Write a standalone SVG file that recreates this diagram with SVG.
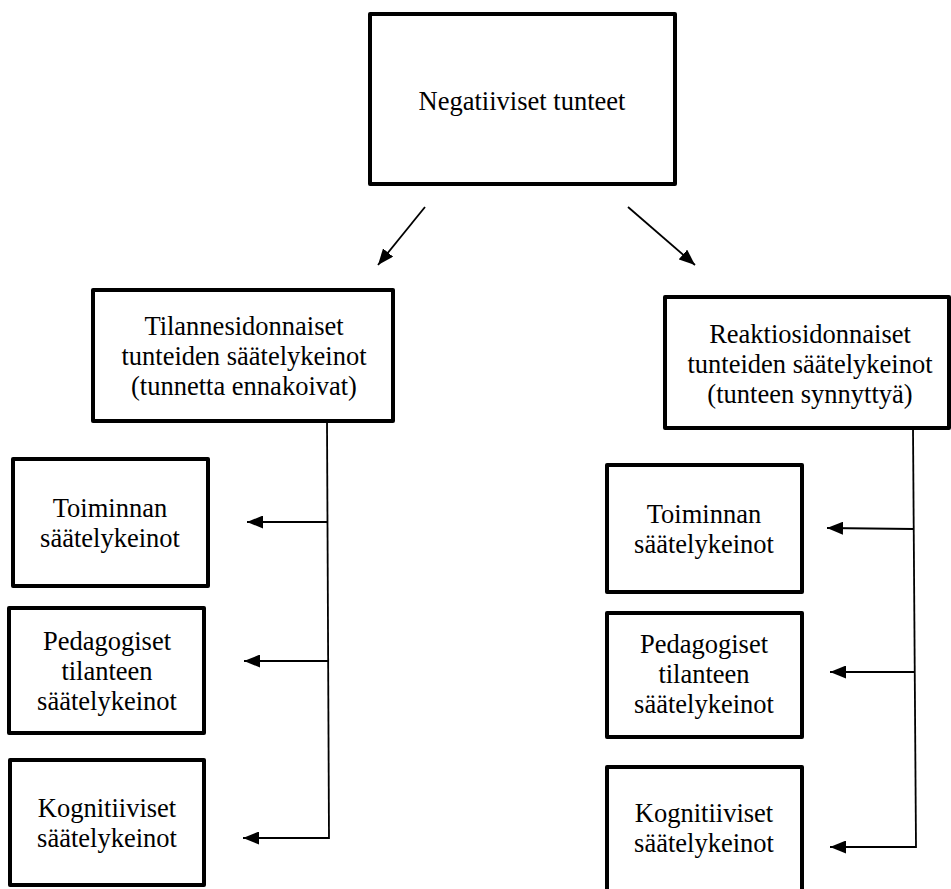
<svg xmlns="http://www.w3.org/2000/svg" width="951" height="889" viewBox="0 0 951 889">
<defs>
<marker id="ahb" markerWidth="16" markerHeight="13" refX="16" refY="6.5" orient="auto" markerUnits="userSpaceOnUse" viewBox="0 0 16 13">
<path d="M0,0 L16,6.5 L0,13 z" fill="#000"/>
</marker>
</defs>
<style>
.box{fill:#fff;stroke:#000;stroke-width:4;stroke-linejoin:round}
text{font-family:'Liberation Serif','Times New Roman',serif;font-size:26.5px;fill:#000;text-anchor:middle}
.ln{stroke:#000;stroke-width:1.8;fill:none}
.ar{stroke:#000;stroke-width:1.8;fill:none;marker-end:url(#ahb)}
</style>
<rect width="951" height="889" fill="#fff"/>
<g id="connectors">
<line class="ar" x1="425" y1="207" x2="378" y2="265"/>
<line class="ar" x1="628" y1="207" x2="695" y2="265"/>
<line class="ln" x1="327" y1="421" x2="329" y2="839"/>
<line class="ar" x1="328" y1="522" x2="247" y2="522"/>
<line class="ar" x1="328" y1="661" x2="244" y2="661"/>
<line class="ar" x1="329" y1="838" x2="243" y2="838"/>
<line class="ln" x1="913" y1="428" x2="916" y2="848"/>
<line class="ar" x1="914" y1="529" x2="827" y2="528"/>
<line class="ar" x1="915" y1="672" x2="830" y2="672"/>
<line class="ar" x1="916" y1="847" x2="830" y2="847"/>
</g>
<g id="n-negatiiviset">
<rect class="box" x="370" y="14" width="305" height="170"/>
<text x="522" y="110">Negatiiviset tunteet</text>
</g>
<g id="n-tilanne">
<rect class="box" x="93" y="290" width="300" height="131"/>
<text x="244" y="335">Tilannesidonnaiset</text>
<text x="244" y="365">tunteiden säätelykeinot</text>
<text x="244" y="395">(tunnetta ennakoivat)</text>
</g>
<g id="n-reaktio">
<rect class="box" x="665" y="297" width="284" height="131"/>
<text x="810" y="343">Reaktiosidonnaiset</text>
<text x="810" y="373">tunteiden säätelykeinot</text>
<text x="810" y="403">(tunteen synnyttyä)</text>
</g>
<g id="n-l-toiminnan">
<rect class="box" x="13" y="459" width="195" height="127"/>
<text x="110" y="517">Toiminnan</text>
<text x="110" y="547">säätelykeinot</text>
</g>
<g id="n-l-pedagogiset">
<rect class="box" x="9" y="608" width="195" height="125"/>
<text x="107" y="650">Pedagogiset</text>
<text x="107" y="680">tilanteen</text>
<text x="107" y="710">säätelykeinot</text>
</g>
<g id="n-l-kognitiiviset">
<rect class="box" x="10" y="760" width="194" height="125"/>
<text x="107" y="817">Kognitiiviset</text>
<text x="107" y="847">säätelykeinot</text>
</g>
<g id="n-r-toiminnan">
<rect class="box" x="607" y="465" width="195" height="127"/>
<text x="704" y="523">Toiminnan</text>
<text x="704" y="553">säätelykeinot</text>
</g>
<g id="n-r-pedagogiset">
<rect class="box" x="607" y="613" width="195" height="124"/>
<text x="704" y="653">Pedagogiset</text>
<text x="704" y="683">tilanteen</text>
<text x="704" y="713">säätelykeinot</text>
</g>
<g id="n-r-kognitiiviset">
<rect class="box" x="607" y="767" width="195" height="130"/>
<text x="704" y="822">Kognitiiviset</text>
<text x="704" y="852">säätelykeinot</text>
</g>
</svg>
